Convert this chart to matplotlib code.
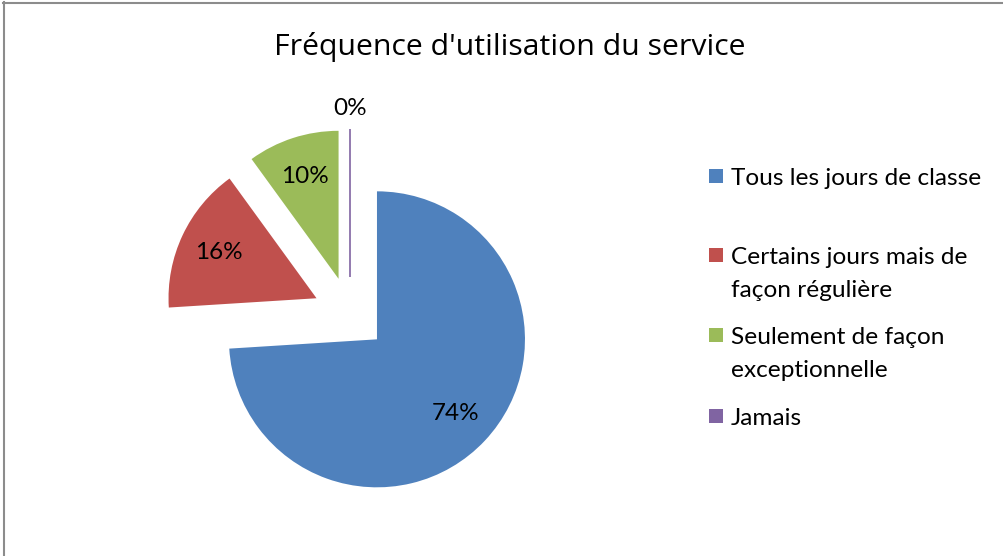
import matplotlib
matplotlib.use("Agg")
import matplotlib.pyplot as plt
from matplotlib.patches import Rectangle
from matplotlib.lines import Line2D

# Data
categories = ["Tous les jours de classe",
              "Certains jours mais de\nfaçon régulière",
              "Seulement de façon\nexceptionnelle",
              "Jamais"]
values = [74, 16, 10, 0]
colors = ["#4F81BD", "#C0504D", "#9BBB59", "#8064A2"]
title = "Fréquence d'utilisation du service"

W, H = 1004, 556
fig = plt.figure(figsize=(W / 100, H / 100), dpi=100)
fig.patch.set_facecolor("white")

def fx(x):
    return x / W

def fy(y):
    return 1 - y / H

# Pie: centre at (350, 314) px, radius 148 px
cx, cy, r = 350, 314, 148
ax = fig.add_axes([0, 0, 1, 1])
wedges, texts, autotexts = ax.pie(
    values, colors=colors, startangle=90, counterclock=False,
    explode=[0.25] * len(values), autopct="%.0f%%", pctdistance=0.73,
    textprops={"family": "Lato", "fontsize": 17.5, "color": "black"},
)
# the 0% slice is only a line
wedges[3].set_edgecolor(colors[3])
wedges[3].set_linewidth(1.2)
autotexts[3].set_position((0, 1.39))
ax.set_xlim(-cx / r, (W - cx) / r)
ax.set_ylim(-(H - cy) / r, cy / r)
ax.set_aspect("auto")
ax.axis("off")

# Title
fig.text(fx(510), fy(47), title, ha="center", va="center",
         family="Open Sans", fontsize=21.8, color="black")

# Legend drawn by hand (Excel-like spacing)
baselines = [185, 264, 344, 425]
for lab, col, yb in zip(categories, colors, baselines):
    fig.patches.append(Rectangle((fx(709), fy(yb - 2)), 14 / W, 14 / H,
                                 transform=fig.transFigure, facecolor=col,
                                 edgecolor="none"))
    for i, line in enumerate(lab.split("\n")):
        fig.text(fx(731), fy(yb + 33 * i), line, ha="left", va="baseline",
                 family="Lato", fontsize=17.6, color="black")

# Border (top and left only, as in the source)
fig.lines.append(Line2D([fx(3), 1], [fy(2.5), fy(2.5)], transform=fig.transFigure,
                        color="#8c8c8c", linewidth=1.5))
fig.lines.append(Line2D([fx(4), fx(4)], [0, fy(2)], transform=fig.transFigure,
                        color="#8c8c8c", linewidth=1.5))

fig.savefig("out.png", dpi=100)
